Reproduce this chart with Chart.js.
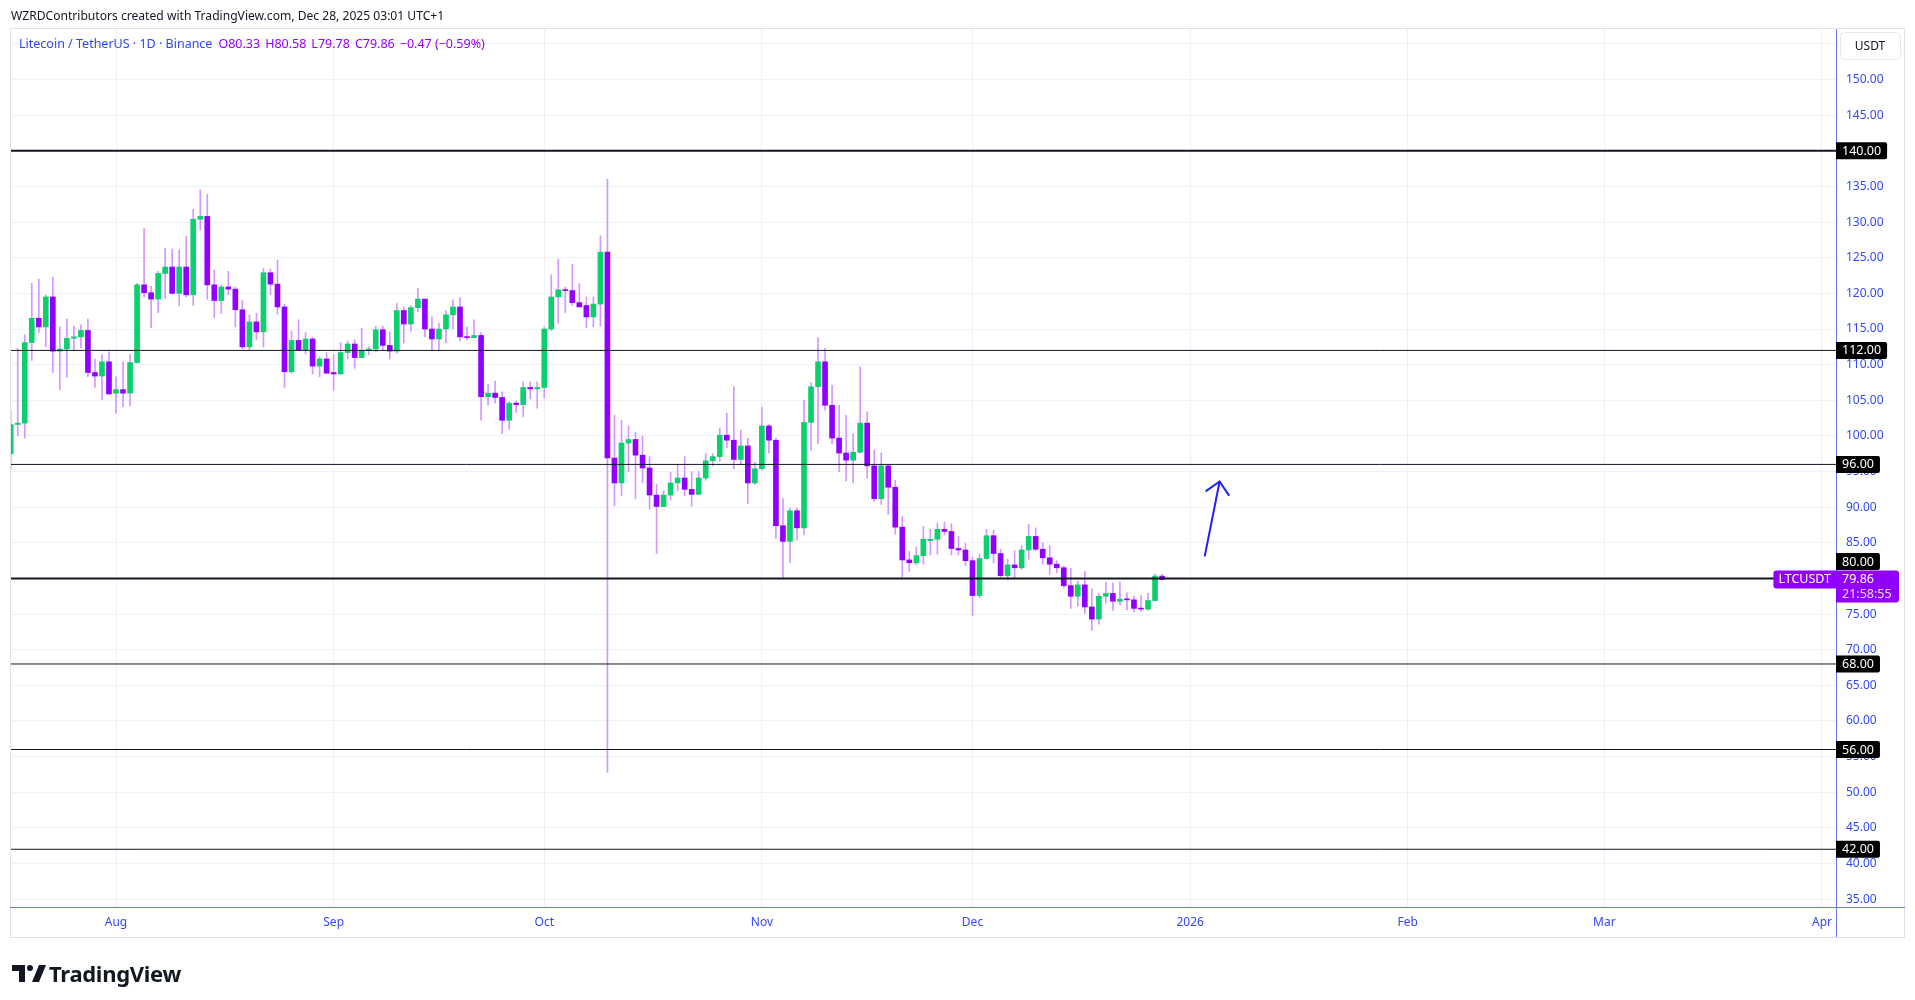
<!DOCTYPE html>
<html>
<head>
<meta charset="utf-8">
<script src="https://cdn.jsdelivr.net/npm/chart.js@4.4.1/dist/chart.umd.min.js"></script>
<style>
  body { margin: 0; background: #fff; width: 1915px; height: 1000px; overflow: hidden; position: relative; font-family: "Noto Sans", Roboto, sans-serif; }
  #chart { position: absolute; left: 0; top: 0; }
  #credit { position: absolute; left: 11px; top: 7px; font-size: 12.1px; color: #131722; white-space: nowrap; }
  #legend { position: absolute; left: 19px; top: 35px; font-size: 12.5px; white-space: nowrap; z-index: 2; }
  #legend .sym { color: #3347f5; margin-right: 6px; }
  #legend .v { color: #9400ff; margin-right: 5px; }
  #logo { position: absolute; left: 12px; top: 958px; display: flex; align-items: center; }
  #logo span { font-size: 22px; font-weight: 700; color: #131722; margin-left: 3px; letter-spacing: -0.3px; }
</style>
</head>
<body>
<canvas id="chart" width="1915" height="1000"></canvas>
<div id="credit">WZRDContributors created with TradingView.com, Dec 28, 2025 03:01 UTC+1</div>
<div id="legend"><span class="sym">Litecoin / TetherUS · 1D · Binance</span><span class="v">O80.33</span><span class="v">H80.58</span><span class="v">L79.78</span><span class="v">C79.86</span><span class="v">−0.47 (−0.59%)</span></div>
<div id="logo">
  <svg width="34" height="20" viewBox="0 0 34 20">
    <path d="M0 2 H13 V19 H7 V8 H0 Z" fill="#131722"/>
    <circle cx="18" cy="5" r="3" fill="#131722"/>
    <path d="M20 19 L27 2 H34 L27 19 Z" fill="#131722"/>
  </svg>
  <span>TradingView</span>
</div>
<script>
// LTC / USDT daily candles, 17 Jul 2025 -> 28 Dec 2025
const firstDay = '2025-07-17';
const opens = [
  97.5,101.6,101.8,113.1,116.5,115.3,119.5,111.9,112.2,113.7,113.9,114.8,108.9,108.4,110.4,
  106.0,106.5,106.0,110.3,121.2,120.1,119.2,122.8,123.7,120.0,123.7,119.8,130.4,130.8,121.2,
  119.0,120.9,120.6,117.7,112.5,116.0,114.6,122.9,121.3,118.1,109.0,113.4,112.1,113.6,109.8,110.8,
  108.9,108.7,111.7,112.9,111.0,112.0,112.2,114.9,112.7,111.9,117.6,115.7,118.0,119.2,115.0,
  113.6,115.0,117.0,118.1,113.9,113.8,114.1,105.5,106.0,105.4,102.2,104.6,104.4,106.8,106.6,
  106.8,115.0,119.5,120.5,120.4,118.7,118.3,116.7,118.5,125.8,96.9,93.4,99.0,99.5,97.3,
  95.5,91.7,90.1,91.7,93.4,94.1,92.5,91.8,94.1,96.5,97.1,100.1,99.4,96.7,98.6,93.4,
  95.4,101.4,99.4,87.4,85.2,89.5,87.1,101.9,106.9,110.4,104.3,99.7,97.6,96.6,97.7,101.8,
  95.8,91.2,95.8,92.8,87.2,82.6,82.2,83.2,85.3,85.5,86.9,86.6,84.2,84.0,
  82.5,77.6,82.8,86.0,83.5,80.4,81.9,81.5,84.0,85.9,84.1,82.9,82.0,81.5,79.0,77.5,
  79.1,76.0,74.3,77.5,77.9,76.8,77.1,77.0,75.8,75.7,76.9,80.33
];
const highs = [
  103.5,112.3,114.2,121.4,122.0,119.8,122.3,115.3,116.4,115.4,115.6,116.4,110.8,111.4,111.8,
  108.3,110.4,111.4,121.4,129.1,121.0,123.1,126.3,126.2,126.1,128.0,131.8,134.5,133.9,123.3,
  121.2,123.1,120.9,119.0,117.0,117.2,123.5,123.4,124.7,118.5,114.7,116.3,114.5,113.8,111.1,111.7,
  111.4,113.1,113.3,113.5,115.1,112.5,115.4,115.4,114.6,118.6,118.1,118.3,120.7,119.2,116.7,
  115.8,117.6,119.1,119.4,115.3,116.3,114.5,107.2,107.7,106.2,104.8,104.9,107.6,107.6,107.6,
  115.3,122.6,124.8,120.9,124.1,121.4,119.5,119.5,128.1,136.0,102.9,102.2,101.4,100.5,100.0,
  97.1,93.2,92.3,94.9,96.0,97.1,95.0,95.0,97.5,97.5,101.1,103.2,106.9,100.8,99.7,96.3,
  104.0,101.6,99.7,91.2,89.9,89.9,105.0,107.5,113.8,112.3,107.1,104.3,102.9,100.3,109.7,103.4,
  98.0,97.6,96.0,93.8,88.7,83.8,84.4,87.3,86.9,87.8,87.9,87.7,85.9,84.9,
  83.0,83.4,86.9,86.8,84.1,82.7,83.9,84.6,87.6,87.1,85.0,84.6,82.5,81.7,81.4,79.6,
  81.0,78.5,77.9,79.5,79.4,79.5,78.0,77.5,77.6,77.9,80.6,80.58
];
const lows = [
  95.3,100.0,99.7,110.6,114.5,112.5,108.9,106.5,108.2,112.1,112.4,108.3,106.8,105.1,105.8,
  103.2,104.1,104.2,110.2,119.5,115.2,117.3,119.3,119.9,118.3,119.5,118.3,128.9,119.2,116.6,
  117.2,119.8,115.3,112.2,112.1,113.5,112.5,119.8,117.1,106.8,108.8,112.1,111.5,108.7,108.3,108.8,
  106.4,108.6,110.8,109.5,111.0,111.4,111.8,112.0,110.8,111.6,113.0,114.7,117.4,113.9,112.0,
  112.0,113.1,115.0,113.3,113.5,113.8,102.2,104.3,104.6,100.3,100.9,103.3,102.7,105.2,103.9,
  105.3,114.8,115.8,117.3,118.3,118.1,115.2,115.3,115.4,52.8,90.2,91.6,95.0,91.2,93.4,
  89.7,83.5,90.1,91.0,92.3,91.6,90.1,91.7,93.8,95.8,96.4,98.3,95.4,96.0,90.5,93.2,
  95.2,97.6,85.6,79.9,82.2,85.4,86.1,98.0,98.9,103.6,98.9,95.0,93.7,93.4,97.6,94.1,
  90.8,90.4,89.0,86.2,80.2,81.0,81.9,82.0,83.3,83.4,86.1,83.3,83.3,81.8,
  74.8,77.3,82.7,82.2,80.0,79.8,80.1,81.3,82.7,83.9,82.0,80.6,80.8,78.7,75.8,76.1,
  75.1,72.7,73.6,76.5,75.5,76.3,75.6,75.3,75.4,75.5,76.8,79.78
];
const closes = [
  101.6,101.8,113.1,116.5,115.3,119.5,111.9,112.2,113.7,113.9,114.8,108.9,108.4,110.4,105.9,
  106.5,106.0,110.3,121.2,120.1,119.2,122.8,123.7,120.0,123.7,119.8,130.4,130.8,121.2,119.0,
  120.9,120.6,117.7,112.5,116.0,114.6,122.9,121.3,118.1,109.0,113.4,112.1,113.6,109.8,110.8,108.8,
  108.7,111.7,112.9,111.0,112.0,112.2,114.9,112.7,111.9,117.6,115.7,118.0,119.2,115.0,113.6,
  115.0,117.0,118.1,113.9,113.8,114.1,105.5,106.0,105.4,102.2,104.6,104.4,106.8,106.6,106.8,
  115.0,119.5,120.5,120.4,118.7,118.1,116.7,118.5,125.8,96.9,93.4,99.0,99.5,97.3,95.5,
  91.7,90.1,91.7,93.4,94.1,92.5,91.8,94.1,96.5,97.1,100.1,99.4,96.7,98.6,93.4,95.4,
  101.4,99.4,87.4,85.2,89.5,87.1,101.9,106.9,110.4,104.3,99.7,97.6,96.6,97.7,101.8,95.8,
  91.2,95.8,92.8,87.2,82.6,82.2,83.2,85.5,85.5,86.9,86.6,84.2,84.0,82.5,
  77.6,82.8,86.0,83.5,80.4,81.9,81.5,84.0,85.9,84.1,82.9,82.0,81.5,79.0,77.5,79.1,
  76.0,74.3,77.5,77.9,76.8,77.1,77.0,75.8,75.7,76.9,80.33,79.86
];

// horizontal levels drawn on the chart
const levels = [140, 112, 96, 80, 68, 56, 42];
const lastPrice = 79.86;
const countdown = '21:58:55';

// hand-drawn arrow (day index from 1 Aug, price)
const arrowShaft = [[155.1, 83.2], [157.2, 93.6]];
const arrowHead = [[155.3, 92.3], [157.2, 93.6], [158.5, 91.7]];

const monthStarts = ['2025-08-01','2025-09-01','2025-10-01','2025-11-01','2025-12-01','2026-01-01','2026-02-01','2026-03-01','2026-04-01'];
const monthLabels = ['Aug','Sep','Oct','Nov','Dec','2026','Feb','Mar','Apr'];
const yTicks = [35,40,45,50,55,60,65,70,75,80,85,90,95,100,105,110,115,120,125,130,135,140,145,150,155];

const UP = '#0ccf6e';
const DOWN = '#9100ff';
const WICK = '#d596ff';
const AXIS_TXT = '#3347f5';
const FONT = '"Noto Sans", Roboto, sans-serif';
const heavyLevels = [140, 80];

function dayIndex(s) {
  return Math.round((Date.parse(s) - Date.parse('2025-08-01')) / 864e5);
}
const x0 = dayIndex(firstDay);
const xMin = -15.1, xMax = 245.0;

const bodyData = opens.map((o, i) => ({ x: x0 + i, y: [Math.min(o, closes[i]), Math.max(o, closes[i])] }));
const wickData = highs.map((h, i) => ({ x: x0 + i, y: [lows[i], h] }));
const bodyColors = opens.map((o, i) => closes[i] >= o ? UP : DOWN);

const levelSets = levels.map(l => ({
  type: 'line',
  data: [{ x: xMin, y: l }, { x: xMax, y: l }],
  borderColor: '#131722',
  borderWidth: heavyLevels.includes(l) ? 2 : 1,
  pointRadius: 0,
  order: 0
}));

const arrowSets = [arrowShaft, arrowHead].map(pts => ({
  type: 'line',
  data: pts.map(p => ({ x: p[0], y: p[1] })),
  borderColor: '#1f1fff',
  borderWidth: 2,
  pointRadius: 0,
  borderCapStyle: 'round',
  borderJoinStyle: 'round',
  order: 0
}));

function box(ctx, x, y, w, h, r, fill) {
  ctx.beginPath();
  ctx.roundRect(x, y, w, h, r);
  ctx.fillStyle = fill;
  ctx.fill();
}

const overlay = {
  id: 'overlay',
  afterDraw(chart) {
    const ctx = chart.ctx;
    const a = chart.chartArea;
    const ys = chart.scales.y;
    ctx.save();
    // pane frame
    ctx.strokeStyle = '#e0e3eb';
    ctx.lineWidth = 1;
    ctx.strokeRect(10.5, 28.5, 1894, 909);
    // axis separators
    ctx.strokeStyle = '#6b74f2';
    ctx.beginPath();
    ctx.moveTo(a.right + 0.5, a.top);
    ctx.lineTo(a.right + 0.5, 937);
    ctx.moveTo(a.left, a.bottom + 0.5);
    ctx.lineTo(1905, a.bottom + 0.5);
    ctx.stroke();

    // USDT box
    ctx.strokeStyle = '#e6e8ee';
    ctx.beginPath();
    ctx.roundRect(1840.5, 32.5, 60, 27, 4);
    ctx.stroke();
    ctx.fillStyle = '#131722';
    ctx.font = '12px ' + FONT;
    ctx.textBaseline = 'middle';
    ctx.textAlign = 'center';
    ctx.fillText('USDT', 1870, 46.5);
    ctx.textAlign = 'left';

    // last price labels
    ctx.font = '12.5px ' + FONT;
    const py = ys.getPixelForValue(lastPrice);
    const pTop = py - 9;
    box(ctx, a.right, pTop, 63, 32, [0, 3, 3, 0], DOWN);
    ctx.fillStyle = '#fff';
    ctx.fillText(lastPrice.toFixed(2), a.right + 6, pTop + 9);
    ctx.fillStyle = 'rgba(255,255,255,0.85)';
    ctx.fillText(countdown, a.right + 6, pTop + 24);
    const tw = ctx.measureText('LTCUSDT').width;
    box(ctx, a.right - tw - 10, pTop, tw + 10, 18, [3, 0, 0, 3], DOWN);
    ctx.fillStyle = '#fff';
    ctx.fillText('LTCUSDT', a.right - tw - 5, pTop + 9);

    // level labels
    levels.forEach(l => {
      let y = ys.getPixelForValue(l);
      if (Math.abs(y - py) < 18) y = pTop - 9;
      const t = l.toFixed(2);
      const w = ctx.measureText(t).width + 12;
      box(ctx, a.right, y - 8.5, w, 17, [0, 2, 2, 0], '#000');
      ctx.fillStyle = '#fff';
      ctx.fillText(t, a.right + 6, y + 0.5);
    });
    ctx.restore();
  }
};

new Chart(document.getElementById('chart'), {
  type: 'bar',
  data: {
    datasets: [
      { type: 'bar', data: wickData, backgroundColor: WICK, barThickness: 1, grouped: false, order: 3 },
      { type: 'bar', data: bodyData, backgroundColor: bodyColors, barThickness: 5, grouped: false, minBarLength: 1, order: 2 },
      ...levelSets,
      ...arrowSets
    ]
  },
  options: {
    responsive: false,
    animation: false,
    layout: { padding: { left: 10, top: 29, right: 10, bottom: 63 } },
    plugins: { legend: { display: false }, tooltip: { enabled: false } },
    scales: {
      x: {
        type: 'linear',
        min: xMin,
        max: xMax,
        offset: false,
        afterBuildTicks: s => { s.ticks = monthStarts.map(d => ({ value: dayIndex(d) })); },
        afterFit: s => { s.height = 30; },
        grid: { color: '#eef1f7', drawTicks: false, offset: false },
        border: { display: false },
        ticks: {
          autoSkip: false,
          maxRotation: 0,
          padding: 8,
          color: AXIS_TXT,
          font: { family: FONT, size: 12 },
          callback: v => monthLabels[monthStarts.findIndex(d => dayIndex(d) === v)]
        }
      },
      y: {
        position: 'right',
        min: 33.9,
        max: 157.1,
        afterBuildTicks: s => { s.ticks = yTicks.map(v => ({ value: v })); },
        afterFit: s => { s.width = 69; },
        grid: { color: '#eef1f7', drawTicks: false },
        border: { display: false },
        ticks: {
          padding: 10,
          color: AXIS_TXT,
          font: { family: FONT, size: 12 },
          callback: v => v === 155 ? '' : v.toFixed(2)
        }
      }
    }
  },
  plugins: [overlay]
});
</script>
</body>
</html>
